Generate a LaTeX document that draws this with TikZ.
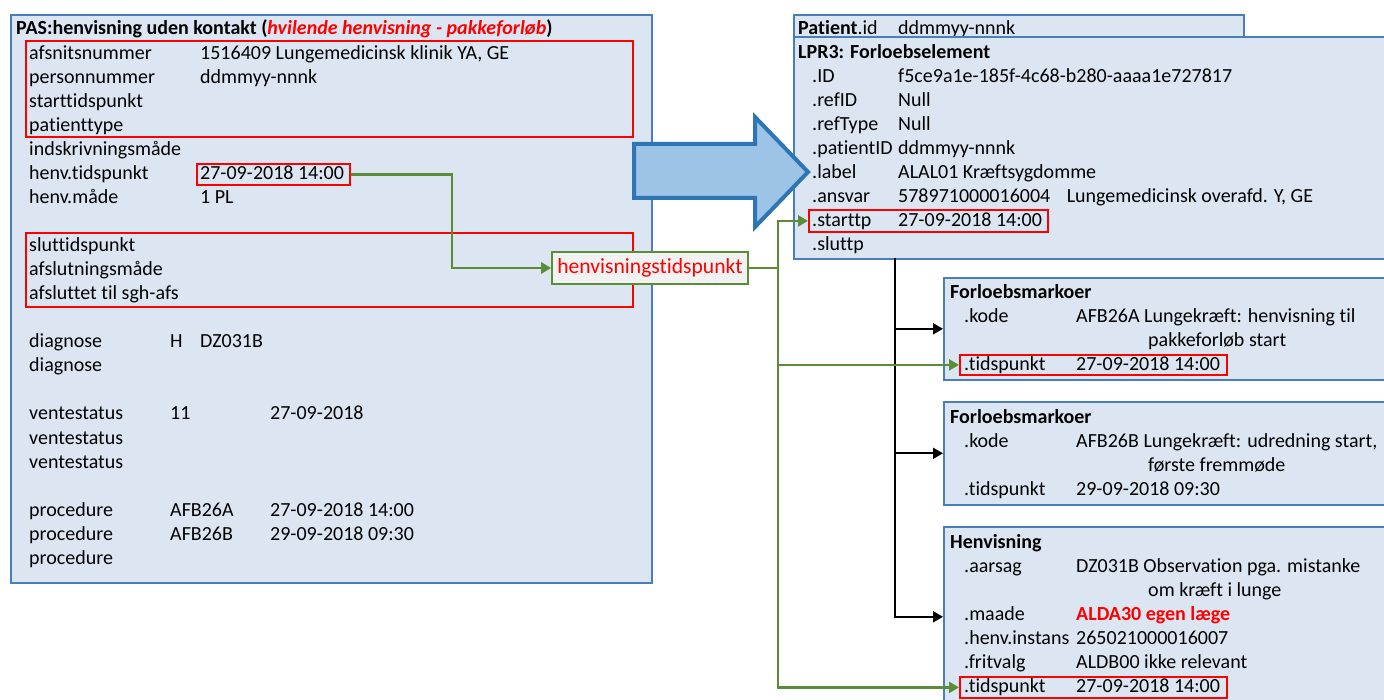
\documentclass[tikz,border=0pt]{standalone}
\usepackage{fontspec}
\setmainfont{Carlito}[Ligatures=NoCommon]
\usetikzlibrary{arrows.meta}

\definecolor{boxfill}{HTML}{DCE6F2}
\definecolor{boxline}{HTML}{4A7EBB}
\definecolor{arrowfill}{HTML}{9DC3E6}
\definecolor{arrowline}{HTML}{2E75B6}
\definecolor{linkgreen}{HTML}{5B8C38}
\definecolor{htsfill}{HTML}{F2F2F2}

\begin{document}
\begin{tikzpicture}[x=1pt, y=-1pt,
    font=\fontsize{20}{24}\selectfont,
    box/.style={draw=boxline, line width=1.6pt, fill=boxfill, anchor=north west, inner sep=0pt},
    redbox/.style={draw=red, line width=1.8pt, anchor=north west, inner sep=0pt},
    txt/.style={anchor=base west, inner sep=0pt},
    head/.style={anchor=base west, inner sep=0pt, font=\fontsize{20}{24}\selectfont\bfseries},
    garrow/.style={draw=linkgreen, line width=2.6pt, -{Triangle[length=10pt,width=11pt]}},
    barrow/.style={draw=black, line width=1.8pt, -{Triangle[length=10pt,width=11pt]}}]
    \useasboundingbox (0,0) rectangle (1384,700);
    \clip (0,0) rectangle (1384,700);

    % PAS
    \node[box, minimum width=641pt, minimum height=568pt] (pas) at (10,14) {};
    \node[head] (pastitle) at (16,35) {PAS:henvisning uden kontakt (\textcolor{red}{\itshape hvilende henvisning - pakkeforløb})};
    \foreach \row/\lab/\val in {0/afsnitsnummer/{1516409 Lungemedicinsk klinik YA, GE}, 1/personnummer/ddmmyy-nnnk,
                                2/starttidspunkt/{}, 3/patienttype/{}, 4/indskrivningsmåde/{},
                                5/henv.tidspunkt/{27-09-2018 14:00}, 6/henv.måde/{1 PL},
                                8/sluttidspunkt/{}, 9/afslutningsmåde/{}, 10/afsluttet til sgh-afs/{}} {
        \node[txt] (pasl\row) at (29, 60+24*\row) {\lab};
        \node[txt] (pasv\row) at (200, 60+24*\row) {\val};
    }
    \foreach \row/\lab/\vb/\vc in {12/diagnose/H/{}, 13/diagnose/{}/{},
                                   15/ventestatus/11/{27-09-2018}, 16/ventestatus/{}/{}, 17/ventestatus/{}/{},
                                   19/procedure/AFB26A/{27-09-2018 14:00}, 20/procedure/AFB26B/{29-09-2018 09:30},
                                   21/procedure/{}/{}} {
        \node[txt] (pasl\row) at (29, 60+24*\row) {\lab};
        \node[txt] (pasb\row) at (170, 60+24*\row) {\vb};
        \node[txt] (pasc\row) at (270, 60+24*\row) {\vc};
    }
    \node[txt] (pasdiag) at (200,348) {DZ031B};
    \node[redbox, minimum width=607pt, minimum height=96pt] (pasred1) at (25,40) {};
    \node[redbox, minimum width=607pt, minimum height=74pt] (pasred2) at (25,232) {};
    \node[redbox, minimum width=153pt, minimum height=21pt] (henvtid) at (196,163) {};

    % Patient / LPR3
    \node[box, minimum width=450pt, minimum height=24pt] (patient) at (793,14) {};
    \node[txt] (patientid) at (798,35) {\textbf{Patient}.id};
    \node[txt] (patientval) at (898,35) {ddmmyy-nnnk};
    \node[box, minimum width=620pt, minimum height=222pt] (lpr) at (793,36) {};
    \node[head] (lprtitle) at (798,59) {LPR3: Forloebselement};
    \foreach \row/\lab/\val in {0/.ID/f5ce9a1e-185f-4c68-b280-aaaa1e727817, 1/.refID/Null, 2/.refType/Null,
                                3/.patientID/ddmmyy-nnnk, 4/.label/ALAL01 Kræftsygdomme,
                                5/.ansvar/{578971000016004\hspace{12pt} Lungemedicinsk overafd. Y, GE},
                                6/.starttp/{27-09-2018 14:00}, 7/.sluttp/{}} {
        \node[txt] (lprl\row) at (812, 83+24*\row) {\lab};
        \node[txt] (lprv\row) at (898, 83+24*\row) {\val};
    }
    \node[redbox, minimum width=239pt, minimum height=22pt] (starttp) at (808,209) {};

    % Pil
    \draw[fill=arrowfill, draw=arrowline, line width=4pt] (634,144) -- (755,144) -- (755,117) -- (808,172)
        -- (755,227) -- (755,198) -- (634,198) -- cycle;

    % Forloebsmarkoer
    \node[box, minimum width=457pt, minimum height=102pt] (fm1) at (943,277) {};
    \node[head] (fm1title) at (950,299) {Forloebsmarkoer};
    \node[txt] (fm1l1) at (964,323) {.kode};
    \node[txt] (fm1v1) at (1076,323) {AFB26A Lungekræft: henvisning til};
    \node[txt] (fm1v2) at (1148,347) {pakkeforløb start};
    \node[txt] (fm1l3) at (964,371) {.tidspunkt};
    \node[txt] (fm1v3) at (1076,371) {27-09-2018 14:00};
    \node[redbox, minimum width=267pt, minimum height=20pt] (tid1) at (959,354) {};

    \node[box, minimum width=457pt, minimum height=103pt] (fm2) at (943,401) {};
    \node[head] (fm2title) at (950,423) {Forloebsmarkoer};
    \node[txt] (fm2l1) at (964,447) {.kode};
    \node[txt] (fm2v1) at (1076,447) {AFB26B Lungekræft: udredning start,};
    \node[txt] (fm2v2) at (1148,471) {første fremmøde};
    \node[txt] (fm2l3) at (964,495) {.tidspunkt};
    \node[txt] (fm2v3) at (1076,495) {29-09-2018 09:30};

    % Henvisning
    \node[box, minimum width=457pt, minimum height=180pt] (hv) at (943,526) {};
    \node[head] (hvtitle) at (950,548) {Henvisning};
    \foreach \row/\lab/\val in {0/.aarsag/{DZ031B Observation pga. mistanke}, 2/.maade/{\textcolor{red}{\bfseries ALDA30 egen læge}},
                                3/.henv.instans/265021000016007, 4/.fritvalg/{ALDB00 ikke relevant},
                                5/.tidspunkt/{27-09-2018 14:00}} {
        \node[txt] (hvl\row) at (964, 572+24*\row) {\lab};
        \node[txt] (hvv\row) at (1076, 572+24*\row) {\val};
    }
    \node[txt] (hvv1) at (1148,596) {om kræft i lunge};
    \node[redbox, minimum width=267pt, minimum height=21pt] (tid3) at (959,676) {};

    % Forbindelser
    \coordinate (btrunk) at (895,258);
    \draw[barrow] (btrunk) |- (fm1.west);
    \draw[barrow] (btrunk) |- (fm2.west);
    \draw[barrow] (btrunk) |- (hv.west);

    \node[draw=linkgreen, line width=1.6pt, fill=htsfill, text=red, font=\fontsize{21.6}{26}\selectfont,
          minimum width=196pt, minimum height=32pt, inner sep=0pt] (hts) at (650,268) {henvisningstidspunkt};
    \draw[garrow] (henvtid.east) -- ++(101,0) |- (hts.west);
    \coordinate (gtrunk) at (778,268);
    \draw[garrow] (hts.east) -- (gtrunk) |- (starttp.west);
    \draw[garrow] (gtrunk) |- (tid1.west);
    \draw[garrow] (gtrunk) |- (tid3.west);
\end{tikzpicture}
\end{document}
